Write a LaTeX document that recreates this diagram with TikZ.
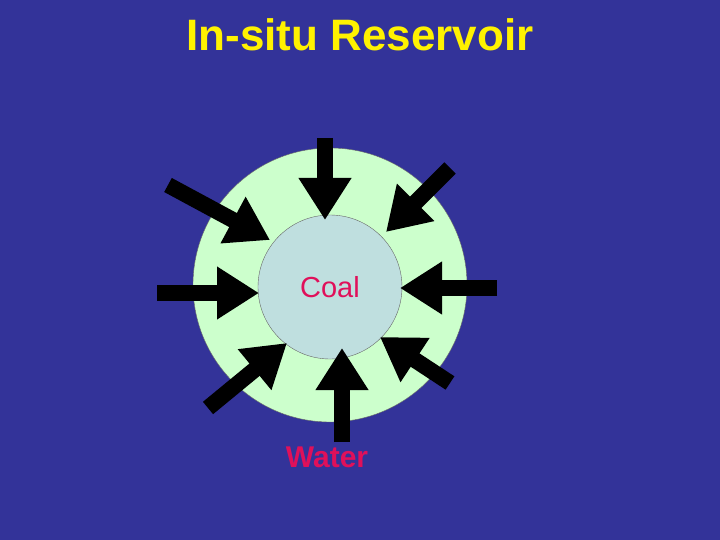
\documentclass[tikz,border=0pt]{standalone}
\usepackage{fontspec}
\setmainfont{Liberation Sans}
\usetikzlibrary{arrows.meta}
\definecolor{bg}{HTML}{333399}
\definecolor{ring}{HTML}{CCFFCC}
\definecolor{core}{HTML}{BFDFDF}
\definecolor{txtred}{HTML}{E0105A}
\tikzset{blk/.style={line width=16pt, -{Triangle[length=42pt,width=50pt]}, black}}
\begin{document}
\begin{tikzpicture}[x=1pt,y=-1pt]
\fill[bg] (0,0) rectangle (720,540);
\useasboundingbox (0,0) rectangle (720,540);
\node[text=yellow,font=\bfseries\fontsize{44}{46}\selectfont] (title) at (360,35) {In-situ Reservoir};
\node[circle,fill=ring,draw=black!60,minimum size=274pt,inner sep=0] (outer) at (330,285) {};
\node[circle,fill=core,draw=black!60,minimum size=144pt,inner sep=0,text=txtred,font=\fontsize{29}{31}\selectfont] (coal) at (330,287) {Coal};
\node[text=txtred,font=\bfseries\fontsize{30}{32}\selectfont] (water) at (327,457) {Water};
\coordinate (s1) at (325,138); \coordinate (e1) at (325,220);
\coordinate (s2) at (157,293); \coordinate (e2) at (259,293);
\coordinate (s3) at (497,288); \coordinate (e3) at (400,288);
\coordinate (s4) at (342,442); \coordinate (e4) at (342,348);
\coordinate (s5) at (168,185); \coordinate (e5) at (270,240);
\coordinate (s6) at (450,168); \coordinate (e6) at (386,232);
\coordinate (s7) at (208,408); \coordinate (e7) at (287,343);
\coordinate (s8) at (450,383); \coordinate (e8) at (380,337);
\foreach \i in {1,...,8} \draw[blk] (s\i) -- (e\i);
\end{tikzpicture}
\end{document}
